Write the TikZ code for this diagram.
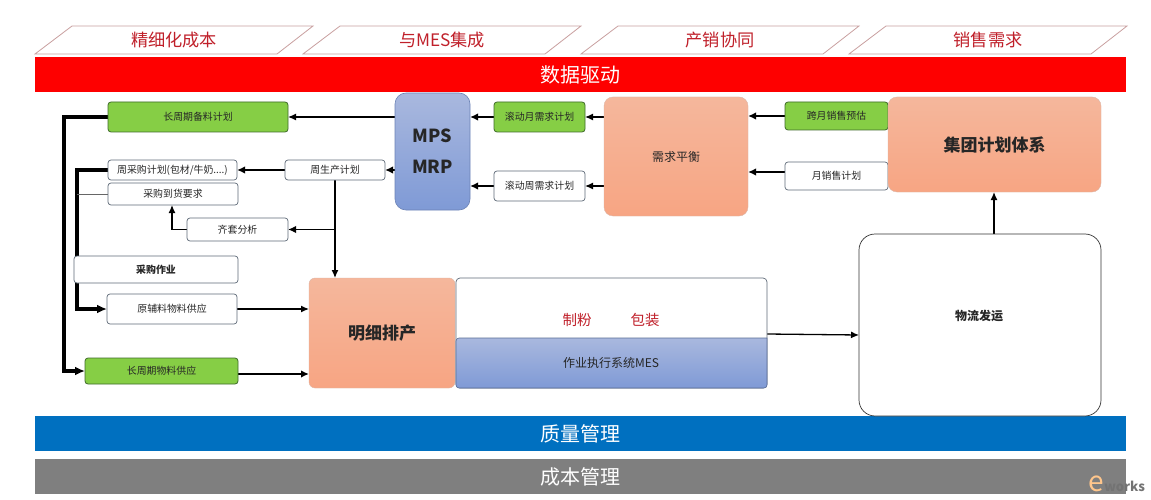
\documentclass[tikz,border=0pt]{standalone}
\usepackage{fontspec}
\setmainfont{Noto Sans CJK SC}
\usetikzlibrary{arrows.meta,calc}
\pgfdeclarelayer{back}
\pgfdeclarelayer{conn}
\pgfsetlayers{back,conn,main}
\definecolor{redtxt}{HTML}{C0202A}
\definecolor{paraline}{HTML}{C9A0A0}
\definecolor{greenfill}{HTML}{86CE45}
\definecolor{greenline}{HTML}{3F6B2A}
\definecolor{boxline}{HTML}{5F6B78}
\definecolor{orangetop}{HTML}{F5B79C}
\definecolor{orangebot}{HTML}{F7A583}
\definecolor{bluetop}{HTML}{A9B8DE}
\definecolor{bluebot}{HTML}{7F9AD6}
\tikzset{
  base/.style={inner sep=0pt,outer sep=0pt,align=center,text=black!85},
  wbox/.style={base,draw=boxline,fill=white,rounded corners=3pt,line width=.7pt,font=\fontsize{9.9}{11}\selectfont},
  gbox/.style={base,draw=greenline,fill=greenfill,rounded corners=3pt,line width=.8pt,font=\fontsize{9.9}{11}\selectfont},
  obox/.style={base,draw=orangebot!80!black!60,top color=orangetop,bottom color=orangebot,rounded corners=9pt,line width=.4pt},
  bbox/.style={base,draw=bluebot!85!black,top color=bluetop,bottom color=bluebot,line width=.6pt},
  bar/.style={base,text=white,font=\fontsize{20}{24}\selectfont},
  para/.style={draw=paraline,line width=.8pt,fill=white},
  plab/.style={base,text=redtxt,font=\fontsize{17.2}{20}\selectfont},
  linea/.style={draw=black,line width=1.3pt,-{Latex[length=8pt,width=7pt]}},
  lineb/.style={draw=black,line width=1.9pt,-{Latex[length=8pt,width=7.5pt]}},
  linec/.style={draw=black,line width=3.2pt,line join=miter,-{Latex[length=10pt,width=9pt]}},
}
\newcommand{\bx}[7]{\node[#6,minimum width=#4pt-#2pt,minimum height=#5pt-#3pt] (#1) at ({(#2+#4)/2},{(#3+#5)/2}) {#7};}
\newcommand{\prl}[3]{%
  \draw[para] (#1,54) -- ({#1+37},26) -- ({#1+278},26) -- ({#1+242},54) -- cycle;
  \node[plab] (#2) at ({#1+139},40) {#3};}
\begin{document}
\begin{tikzpicture}[x=1pt,y=-1pt]
\useasboundingbox (0,0) rectangle (1151,500);
\begin{pgfonlayer}{back}
\fill[white] (0,0) rectangle (1151,500);
\end{pgfonlayer}
% top labels
\prl{35}{p1}{精细化成本}
\prl{303}{p2}{与MES集成}
\prl{581}{p3}{产销协同}
\prl{849}{p4}{销售需求}
% bars
\bx{data}{35}{57}{1126}{92}{bar,fill={rgb,255:red,254;green,0;blue,0}}{数据驱动}
\bx{qual}{35}{416}{1126}{451}{bar,fill={rgb,255:red,0;green,112;blue,192}}{质量管理}
\bx{cost}{35}{459}{1126}{494}{bar,fill={rgb,255:red,127;green,127;blue,127}}{成本管理}
% left column
\bx{lplan}{108}{102}{288}{132}{gbox}{长周期备料计划}
\bx{wbuy}{108}{160}{237}{180}{wbox}{周采购计划(包材/牛奶....)}
\bx{arrive}{108}{183}{238}{205}{wbox}{采购到货要求}
\bx{kit}{187}{218}{288}{241}{wbox}{齐套分析}
\bx{buyop}{74}{256}{238}{283}{wbox,font=\fontsize{9.9}{11}\selectfont\bfseries}{采购作业}
\bx{raw}{107}{294}{237}{324}{wbox}{原辅料物料供应}
\bx{lsup}{85}{358}{238}{384}{gbox}{长周期物料供应}
\bx{wprod}{285}{160}{385}{180}{wbox}{周生产计划}
% centre
\bx{mps}{395}{93}{470}{210}{bbox,rounded corners=11pt,font=\fontsize{18}{31}\selectfont\bfseries}{MPS\\MRP}
\bx{roll1}{494}{102}{585}{132}{gbox}{滚动月需求计划}
\bx{roll2}{494}{171}{585}{201}{wbox}{滚动周需求计划}
\bx{bal}{604}{97}{748}{216}{obox,font=\fontsize{12}{14}\selectfont}{需求平衡}
\bx{cross}{785}{102}{888}{130}{gbox}{跨月销售预估}
\bx{month}{785}{162}{888}{190}{wbox}{月销售计划}
\bx{group}{888}{97}{1101}{192}{obox,font=\fontsize{17}{20}\selectfont\bfseries}{集团计划体系}
\bx{detail}{309}{278}{455}{388}{obox,rounded corners=6pt,font=\fontsize{17}{20}\selectfont\bfseries}{明细排产}
\bx{mesbox}{456}{278}{767}{388}{base,draw=boxline,fill=white,rounded corners=4pt,line width=.7pt}{}
\shade[top color=bluetop,bottom color=bluebot,draw=bluebot!70!black,line width=.6pt,rounded corners=3pt]
  (456,338) [sharp corners] -- (767,338) [rounded corners=3pt] -- (767,388) -- (456,388) -- cycle;
\node[base,font=\fontsize{12}{14}\selectfont] (mesb) at (611,363) {作业执行系统MES};
\node[base,text=redtxt,font=\fontsize{14.5}{16}\selectfont] (fen) at (577,320) {制粉};
\node[base,text=redtxt,font=\fontsize{14.5}{16}\selectfont] (bao) at (645,320) {包装};
\bx{log}{859}{234}{1101}{416}{wbox,draw=black!80,rounded corners=16pt}{}
\node[base,font=\fontsize{12}{14}\selectfont\bfseries] (logt) at (979,316) {物流发运};
% connectors
\begin{pgfonlayer}{conn}
\draw[linea] (mps.west |- lplan) -- (lplan.east);
\draw[lineb] (mps.west |- wprod) -- (wprod.east);
\draw[lineb] (wprod.west) -- (wbuy.east);
\draw[linea] (wprod.south) -- (wprod.south |- detail.north);
\coordinate (kb) at (wprod.south |- kit.east);
\draw[lineb] (kb) -- (kit.east);
\coordinate (k1) at (172,229.5);
\draw[linea] (kit.west) -- (k1) -- (k1 |- arrive.south);
\coordinate (t1) at (64,117);
\draw[linec] (lplan.west) -- (t1) -- (t1 |- lsup.west) -- (lsup.west);
\coordinate (t2) at (77,170);
\draw[linec] (wbuy.west) -- (t2) -- (t2 |- raw.west) -- (raw.west);
\draw[draw=black!60,line width=.9pt] (arrive.west) -- (arrive.west -| t2);
\draw[linea] (raw.east) -- (raw.east -| detail.west);
\draw[lineb] (lsup.east |- 0,374) -- (detail.west |- 0,374);
\draw[lineb] (roll1.west) -- (roll1.west -| mps.east);
\draw[lineb] (roll2.west) -- (roll2.west -| mps.east);
\draw[linea] (bal.west |- roll1) -- (roll1.east);
\draw[linea] (bal.west |- roll2) -- (roll2.east);
\draw[lineb] (cross.west) -- (cross.west -| bal.east);
\draw[lineb] (month.west |- 0,172) -- (bal.east |- 0,172);
\draw[linea] (767,334) -- (log.west |- 0,335);
\draw[linea] (994,234) -- (994,192);
\end{pgfonlayer}
% watermark
\node[base,anchor=east,font=\fontsize{13}{14}\selectfont\bfseries\itshape,text=black!55] (wm) at (1145,484) {\textcolor{orange!45}{\fontsize{28}{22}\selectfont\mdseries e}works};
\end{tikzpicture}
\end{document}
